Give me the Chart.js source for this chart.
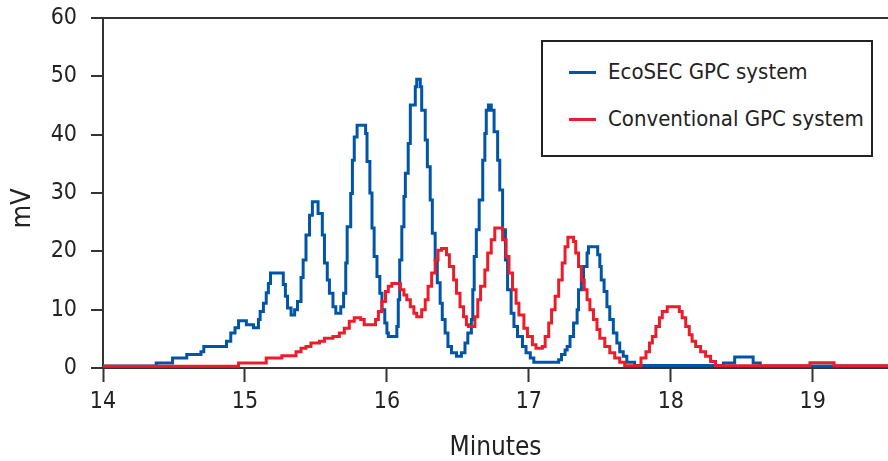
<!DOCTYPE html>
<html>
<head>
<meta charset="utf-8">
<script src="https://cdn.jsdelivr.net/npm/chart.js@4/dist/chart.umd.min.js"></script>
<style>
    body { margin: 0; background: #fff; }
    #wrap { position: relative; width: 888px; height: 461px; }
    #legend {
        position: absolute; left: 541px; top: 40px; width: 332px; height: 117px;
        box-sizing: border-box; border: 2px solid #222; background: #fff;
        font-family: 'Liberation Sans Narrow', 'DejaVu Sans Condensed', sans-serif;
        font-size: 22px; color: #222;
    }
    .item { position: absolute; left: 26px; height: 30px; line-height: 30px; white-space: nowrap; }
    .item span.swatch { position: absolute; left: 0; top: 14px; width: 27px; height: 3px; }
    .item span.txt { position: absolute; left: 39px; top: 0; }
</style>
</head>
<body>
<div id="wrap">
    <canvas id="gpcChart" width="888" height="461"></canvas>
    <div id="legend"></div>
</div>
<script>
// series names and colours
const seriesNames = ['EcoSEC GPC system', 'Conventional GPC system'];
const seriesColors = ['#0055a6', '#ec1c2a'];

// EcoSEC trace: time (min) where the step starts, and level (mV)
const ecoTimes = [14.00, 14.375, 14.49, 14.59, 14.69, 14.71, 14.87, 14.90, 14.93, 14.955,
    15.01, 15.06, 15.095, 15.107, 15.13, 15.15, 15.165, 15.18, 15.27, 15.285,
    15.30, 15.325, 15.35, 15.37, 15.395, 15.41, 15.43, 15.455, 15.475, 15.515,
    15.545, 15.56, 15.58, 15.595, 15.62, 15.64, 15.675, 15.695, 15.71, 15.72,
    15.745, 15.757, 15.77, 15.79, 15.85, 15.86, 15.88, 15.895, 15.91, 15.93,
    15.95, 15.965, 15.985, 16.00, 16.01, 16.07, 16.08, 16.09, 16.105, 16.12,
    16.13, 16.15, 16.165, 16.20, 16.21, 16.235, 16.245, 16.27, 16.285, 16.305,
    16.32, 16.34, 16.355, 16.375, 16.39, 16.41, 16.43, 16.455, 16.49, 16.525,
    16.55, 16.57, 16.595, 16.605, 16.615, 16.63, 16.65, 16.675, 16.69, 16.70,
    16.715, 16.735, 16.755, 16.78, 16.795, 16.815, 16.835, 16.85, 16.875, 16.895,
    16.92, 16.955, 16.98, 17.01, 17.035, 17.21, 17.23, 17.255, 17.27, 17.29,
    17.315, 17.34, 17.35, 17.37, 17.385, 17.41, 17.42, 17.485, 17.50, 17.51,
    17.53, 17.55, 17.57, 17.595, 17.62, 17.64, 17.665, 17.69, 17.745, 18.37,
    18.45, 18.58, 18.63, 19.53];
const ecoValues = [0.35, 0.85, 1.7, 2.3, 2.8, 3.7, 4.6, 6.0, 6.9, 8.1,
    7.4, 6.9, 8.3, 9.7, 11.1, 12.9, 14.5, 16.3, 14.3, 12.3,
    10.3, 9.1, 10.0, 11.4, 15.5, 18.5, 22.8, 26.2, 28.5, 26.5,
    22.8, 18.0, 15.1, 12.8, 10.5, 9.4, 10.5, 12.8, 18.0, 24.2,
    29.9, 35.6, 39.6, 41.6, 40.2, 35.4, 30.0, 24.0, 19.1, 15.7,
    12.8, 10.0, 7.7, 6.0, 5.4, 7.1, 11.7, 18.5, 24.2, 29.4,
    33.4, 38.5, 45.1, 48.2, 49.5, 48.2, 44.2, 39.1, 34.5, 28.8,
    23.1, 18.5, 14.6, 11.1, 8.3, 6.0, 3.7, 2.6, 2.0, 2.6,
    4.3, 6.0, 8.3, 13.4, 19.1, 23.7, 28.8, 35.6, 40.2, 44.2,
    45.1, 44.2, 40.5, 35.6, 30.5, 23.7, 18.5, 13.4, 9.4, 7.1,
    5.4, 3.7, 2.6, 1.7, 1.0, 1.4, 2.3, 3.1, 3.7, 5.4,
    7.7, 10.0, 13.4, 15.1, 17.4, 19.7, 20.8, 19.4, 17.4, 15.1,
    13.1, 10.5, 8.3, 6.0, 4.3, 2.8, 2.0, 1.0, 0.45, 0.85,
    1.9, 0.85, 0.35, 0.35];

// conventional trace
const convTimes = [14.00, 14.955, 15.15, 15.26, 15.36, 15.395, 15.43, 15.465, 15.525, 15.56,
    15.62, 15.665, 15.70, 15.735, 15.77, 15.815, 15.84, 15.92, 15.94, 15.965,
    15.99, 16.01, 16.035, 16.095, 16.12, 16.14, 16.165, 16.19, 16.21, 16.245,
    16.27, 16.29, 16.315, 16.34, 16.36, 16.385, 16.42, 16.44, 16.47, 16.49,
    16.515, 16.54, 16.56, 16.575, 16.62, 16.64, 16.66, 16.69, 16.71, 16.735,
    16.76, 16.815, 16.84, 16.86, 16.885, 16.91, 16.93, 16.965, 16.99, 17.025,
    17.05, 17.095, 17.115, 17.14, 17.16, 17.185, 17.21, 17.235, 17.255, 17.275,
    17.315, 17.33, 17.35, 17.37, 17.39, 17.41, 17.43, 17.455, 17.48, 17.50,
    17.535, 17.57, 17.605, 17.64, 17.675, 17.79, 17.825, 17.85, 17.87, 17.895,
    17.92, 17.94, 17.975, 18.06, 18.08, 18.105, 18.13, 18.15, 18.175, 18.21,
    18.245, 18.28, 18.315, 18.98, 19.15, 19.53];
const convValues = [0.3, 0.85, 1.7, 2.1, 2.8, 3.4, 3.7, 4.3, 4.6, 5.1,
    5.4, 6.0, 6.8, 8.0, 8.6, 8.3, 7.4, 8.3, 9.7, 11.4,
    13.1, 14.0, 14.5, 13.4, 12.5, 11.7, 10.5, 9.4, 8.8, 10.0,
    11.7, 14.0, 16.3, 18.5, 20.2, 20.5, 19.4, 17.4, 15.1, 12.8,
    10.5, 8.8, 7.4, 7.1, 8.8, 11.7, 14.0, 16.8, 19.7, 22.0,
    24.0, 22.0, 19.1, 16.3, 13.4, 11.1, 9.1, 6.8, 5.4, 4.0,
    3.4, 3.7, 5.4, 7.7, 10.0, 12.3, 15.1, 18.0, 20.8, 22.4,
    21.7, 19.7, 17.4, 15.1, 13.4, 11.7, 10.0, 8.3, 6.6, 5.1,
    3.7, 2.6, 1.7, 1.0, 0.4, 1.7, 2.8, 4.3, 5.4, 7.1,
    8.6, 9.7, 10.5, 9.7, 8.6, 7.1, 5.7, 4.6, 3.7, 2.8,
    2.0, 1.1, 0.4, 0.9, 0.4, 0.4];

// axis ranges and ticks
const xMin = 14, xMax = 19.53, xStep = 1;
const yMin = 0, yMax = 60, yStep = 10;

const FONT = "'Liberation Sans Narrow', 'DejaVu Sans Condensed', sans-serif";
const AXIS = '#333';

function toPoints(times, values) {
    return times.map((t, i) => ({ x: t, y: values[i] }));
}

document.addEventListener('DOMContentLoaded', function() {
    const ctx = document.getElementById('gpcChart').getContext('2d');
    new Chart(ctx, {
        type: 'line',
        data: {
            datasets: [{
                label: seriesNames[0],
                data: toPoints(ecoTimes, ecoValues),
                borderColor: seriesColors[0],
                order: 1
            }, {
                label: seriesNames[1],
                data: toPoints(convTimes, convValues),
                borderColor: seriesColors[1],
                order: 0
            }]
        },
        options: {
            responsive: false,
            animation: false,
            devicePixelRatio: 1,
            layout: { padding: 0 },
            elements: {
                point: { radius: 0 },
                line: { borderWidth: 3, stepped: true, fill: false, tension: 0 }
            },
            plugins: {
                legend: { display: false },
                tooltip: { enabled: false }
            },
            scales: {
                x: {
                    type: 'linear',
                    min: xMin, max: xMax,
                    afterFit: function(s) { s.height = 93; },
                    ticks: {
                        stepSize: xStep, includeBounds: false,
                        color: '#222', padding: 6,
                        font: { family: FONT, size: 23 },
                        callback: v => v
                    },
                    grid: { drawOnChartArea: false, tickLength: 14, tickColor: AXIS, tickWidth: 2 },
                    border: { color: AXIS, width: 2 },
                    title: {
                        display: true, text: 'Minutes', color: '#222',
                        font: { family: FONT, size: 26, lineHeight: 1 },
                        padding: { top: 0, bottom: 0 }
                    }
                },
                y: {
                    min: yMin, max: yMax,
                    // fixed width and top gap so the plot box sits where the original does
                    afterFit: function(s) { s.width = 103; s.paddingTop = 18; },
                    ticks: {
                        stepSize: yStep, color: '#222', padding: 14,
                        font: { family: FONT, size: 23 }
                    },
                    grid: {
                        // only the top line (at 60) is drawn across the plot
                        color: c => (c.tick && c.tick.value === yMax) ? AXIS : 'rgba(0,0,0,0)',
                        lineWidth: 2, tickLength: 12, tickColor: AXIS, tickWidth: 2
                    },
                    border: { color: AXIS, width: 2 },
                    title: {
                        display: true, text: 'mV\u00a0\u00a0\u00a0\u00a0', color: '#222',
                        font: { family: FONT, size: 27, lineHeight: 1 },
                        padding: { top: 9, bottom: 0 }
                    }
                }
            }
        }
    });

    // legend box in the upper right
    const legend = document.getElementById('legend');
    seriesNames.forEach(function(name, i) {
        const item = document.createElement('div');
        item.className = 'item';
        item.style.top = (15 + i * 47) + 'px';
        item.innerHTML = '<span class="swatch" style="background:' + seriesColors[i] + '"></span>' +
            '<span class="txt">' + name + '</span>';
        legend.appendChild(item);
    });
});
</script>
</body>
</html>
